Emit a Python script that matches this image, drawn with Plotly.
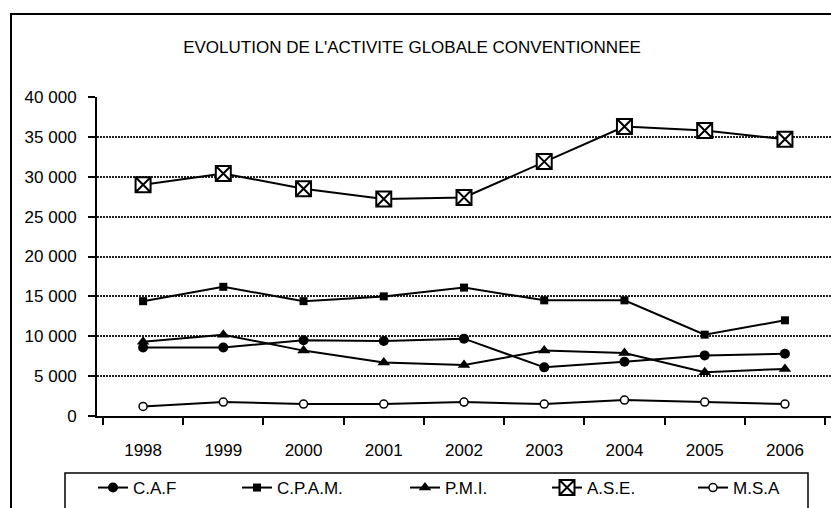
import plotly.graph_objects as go

years = ["1998", "1999", "2000", "2001", "2002", "2003", "2004", "2005", "2006"]
caf = [8600, 8600, 9500, 9400, 9700, 6100, 6800, 7600, 7800]
cpam = [14400, 16200, 14400, 15000, 16100, 14500, 14500, 10200, 12000]
pmi = [9300, 10200, 8200, 6700, 6400, 8200, 7900, 5500, 5900]
ase = [29000, 30400, 28500, 27200, 27400, 31900, 36300, 35800, 34700]
msa = [1200, 1750, 1500, 1500, 1750, 1500, 2000, 1750, 1500]

y_ticks = [0, 5000, 10000, 15000, 20000, 25000, 30000, 35000, 40000]
y_tick_text = ["0", "5 000", "10 000", "15 000", "20 000", "25 000", "30 000", "35 000", "40 000"]

title_text = "EVOLUTION DE L'ACTIVITE GLOBALE CONVENTIONNEE"

W, H = 831, 508
L, R_EDGE, TOP, BOT = 97, 831, 97, 416
pw, ph = R_EDGE - L, BOT - TOP

def px_x(x):
    return (x - L) / pw

def px_y(y):
    return (BOT - y) / ph

FONT = "Liberation Sans, Arial, sans-serif"
fs = 17

series = [
    ("C.A.F", caf, dict(symbol="circle", size=10, color="black"), 93),
    ("C.P.A.M.", cpam, dict(symbol="square", size=8, color="black"), 237),
    ("P.M.I.", pmi, dict(symbol="triangle-up", size=11, color="black"), 405),
    ("A.S.E.", ase, dict(symbol="square-x", size=15, color="white",
                         line=dict(color="black", width=2)), 547),
    ("M.S.A", msa, dict(symbol="circle", size=8, color="white",
                        line=dict(color="black", width=1.5)), 693),
]

fig = go.Figure()
layout_legends = {}
for i, (name, vals, mk, lx) in enumerate(series):
    lname = "legend" if i == 0 else f"legend{i+1}"
    fig.add_trace(go.Scatter(
        x=years, y=vals, name=name, mode="lines+markers",
        line=dict(color="black", width=2), marker=mk,
        legend=lname, cliponaxis=False,
    ))
    layout_legends[lname] = dict(
        x=px_x(lx), xanchor="left", y=px_y(506), yanchor="bottom",
        orientation="h", bgcolor="rgba(0,0,0,0)", borderwidth=0,
        font=dict(family=FONT, size=fs, color="black"),
    )

fig.update_layout(
    width=W, height=H,
    margin=dict(l=L, r=W - R_EDGE, t=TOP, b=H - BOT, pad=0),
    paper_bgcolor="white", plot_bgcolor="white",
    font=dict(family=FONT, size=fs, color="black"),
    title=dict(text=title_text, x=412 / W, xanchor="center", y=1 - 47 / H,
               yanchor="middle", xref="container", yref="container",
               font=dict(family=FONT, size=fs, color="black")),
    showlegend=True,
    **layout_legends,
)

fig.update_xaxes(
    type="category", tickson="boundaries", showgrid=False,
    showline=True, linecolor="black", linewidth=2,
    ticks="outside", ticklen=7, tickwidth=2, tickcolor="black",
    tickfont=dict(family=FONT, size=fs, color="black"),
    ticklabelstandoff=18,
)
fig.update_yaxes(
    range=[0, 40000], tickvals=y_ticks, ticktext=y_tick_text,
    showline=True, linecolor="black", linewidth=2,
    ticks="outside", ticklen=7, tickwidth=2, tickcolor="black",
    showgrid=True, gridcolor="#222", gridwidth=1.5, griddash="2px,1px",
    zeroline=False,
    tickfont=dict(family=FONT, size=fs, color="black"),
    ticklabelstandoff=8,
)

# outer chart border (extends beyond the visible area on right and bottom)
fig.add_shape(type="rect", xref="paper", yref="paper",
              x0=px_x(11), x1=px_x(W + 20), y0=px_y(H + 20), y1=px_y(14),
              line=dict(color="black", width=2), fillcolor="rgba(0,0,0,0)",
              layer="above")
# legend box
fig.add_shape(type="rect", xref="paper", yref="paper",
              x0=px_x(65), x1=px_x(808), y0=px_y(H + 20), y1=px_y(473),
              line=dict(color="black", width=1.5), fillcolor="rgba(0,0,0,0)",
              layer="above")

fig.write_html("out.html",
               config={"displayModeBar": False},
               post_script="document.body.style.margin='0';document.body.style.overflow='hidden';")
